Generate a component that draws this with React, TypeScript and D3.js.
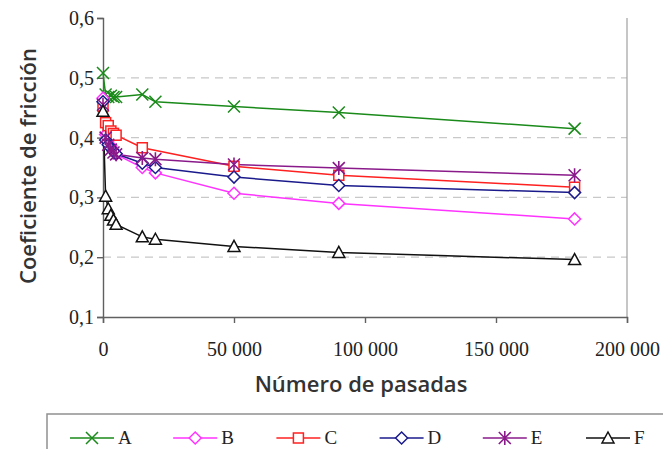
import React, { useEffect, useRef } from 'react';
import * as d3 from 'd3';

// numero de pasadas
const pasadas = [0, 1000, 2000, 3000, 4000, 5000, 15000, 20000, 50000, 90000, 180000];

const serieA = [0.508, 0.472, 0.468, 0.470, 0.468, 0.468, 0.472, 0.460, 0.452, 0.442, 0.415];
const serieB = [0.466, 0.405, 0.395, 0.386, 0.378, 0.372, 0.350, 0.341, 0.307, 0.290, 0.264];
const serieC = [0.452, 0.425, 0.420, 0.411, 0.407, 0.404, 0.383, null, 0.352, 0.337, 0.317];
const serieD = [0.460, 0.396, 0.388, 0.382, 0.377, 0.373, 0.357, 0.350, 0.334, 0.320, 0.308];
const serieE = [0.455, 0.400, 0.388, 0.380, 0.375, 0.372, 0.366, 0.364, 0.355, 0.349, 0.337];
const serieF = [0.444, 0.302, 0.281, 0.270, 0.262, 0.255, 0.234, 0.230, 0.218, 0.208, 0.196];

const nombres = ['A', 'B', 'C', 'D', 'E', 'F'];
const colores = ['#1a8a1a', '#ff33ff', '#ff2020', '#1a1a8c', '#8a1a8a', '#111111'];
const simbolos = ['x', 'diamond', 'square', 'diamond', 'star', 'triangle'];

const yTicks = [0.1, 0.2, 0.3, 0.4, 0.5, 0.6];
const xTicks = [0, 50000, 100000, 150000, 200000];

const W = 663, H = 449;
const left = 103, right = 627, top = 18, bottom = 317;
const SERIF = '"Liberation Serif", "Times New Roman", "DejaVu Serif", serif';

function marker(g, tipo, color) {
  if (tipo === 'x') {
    g.append('path').attr('d', 'M-6,-6L6,6M-6,6L6,-6').attr('stroke', color).attr('stroke-width', 1.5).attr('fill', 'none');
  } else if (tipo === 'diamond') {
    g.append('path').attr('d', 'M0,-6L6,0L0,6L-6,0Z').attr('stroke', color).attr('stroke-width', 1.5).attr('fill', 'white');
  } else if (tipo === 'square') {
    g.append('rect').attr('x', -5).attr('y', -5).attr('width', 10).attr('height', 10)
      .attr('stroke', color).attr('stroke-width', 1.5).attr('fill', 'white');
  } else if (tipo === 'star') {
    g.append('path').attr('d', 'M-6,-6L6,6M-6,6L6,-6M0,-7L0,7').attr('stroke', color).attr('stroke-width', 1.6).attr('fill', 'none');
  } else {
    g.append('path').attr('d', 'M0,-6L6,5L-6,5Z').attr('stroke', color).attr('stroke-width', 1.5).attr('fill', 'white');
  }
}

export default function App() {
  const ref = useRef(null);

  useEffect(() => {
    const svg = d3.select(ref.current);
    svg.selectAll('*').remove();

    const x = d3.scaleLinear().domain([0, 200000]).range([left, right]);
    const y = d3.scaleLinear().domain([0.1, 0.6]).range([bottom, top]);

    const loc = d3.formatLocale({ decimal: ',', thousands: ' ', grouping: [3], currency: ['', ''] });
    const fx = loc.format(',d');
    const fy = loc.format('.1f');

    // grid
    svg.append('g').selectAll('line').data(yTicks.filter(d => d > 0.1 && d < 0.6)).enter()
      .append('line')
      .attr('x1', left).attr('x2', right)
      .attr('y1', d => y(d)).attr('y2', d => y(d))
      .attr('stroke', '#c8c8c8').attr('stroke-width', 1.2).attr('stroke-dasharray', '8,6');

    // right border
    svg.append('line').attr('x1', right).attr('x2', right).attr('y1', top).attr('y2', bottom)
      .attr('stroke', '#a0a0a0').attr('stroke-width', 1.2);

    const yAxis = d3.axisLeft(y).tickValues(yTicks).tickSize(6).tickPadding(3).tickFormat(fy);
    const xAxis = d3.axisBottom(x).tickValues(xTicks).tickSize(6).tickPadding(19).tickFormat(fx);

    const gy = svg.append('g').attr('transform', `translate(${left},0)`).call(yAxis);
    const gx = svg.append('g').attr('transform', `translate(0,${bottom})`).call(xAxis);
    [gx, gy].forEach(g => {
      g.attr('font-family', SERIF).attr('font-size', 20);
      g.selectAll('path').attr('stroke', '#606060').attr('stroke-width', 1.4);
      g.selectAll('line').attr('stroke', '#606060').attr('stroke-width', 1.4);
      g.selectAll('text').style('font-family', SERIF).attr('font-size', 20).attr('fill', '#222');
    });

    const series = [serieA, serieB, serieC, serieD, serieE, serieF];
    const line = d3.line().x(d => x(d[0])).y(d => y(d[1]));

    series.forEach((s, i) => {
      const pts = pasadas.map((p, j) => [p, s[j]]).filter(d => d[1] != null);
      svg.append('path').datum(pts).attr('d', line)
        .attr('fill', 'none').attr('stroke', colores[i]).attr('stroke-width', 1.5);
    });
    series.forEach((s, i) => {
      const pts = pasadas.map((p, j) => [p, s[j]]).filter(d => d[1] != null);
      pts.forEach(d => {
        const g = svg.append('g').attr('transform', `translate(${x(d[0])},${y(d[1])})`);
        marker(g, simbolos[i], colores[i]);
      });
    });

    // titles
    svg.append('text')
      .attr('transform', `translate(36,166) rotate(-90)`)
      .attr('text-anchor', 'middle')
      .attr('font-family', '"Open Sans", sans-serif').attr('font-weight', 600).attr('font-size', 22)
      .attr('fill', '#333')
      .text('Coeficiente de fricción');
    svg.append('text')
      .attr('x', 361).attr('y', 392)
      .attr('text-anchor', 'middle')
      .attr('font-family', '"Open Sans", sans-serif').attr('font-weight', 600).attr('font-size', 22)
      .attr('fill', '#333')
      .text('Número de pasadas');

    // legend
    svg.append('rect').attr('x', 47).attr('y', 414).attr('width', 640).attr('height', 60)
      .attr('fill', 'white').attr('stroke', '#909090').attr('stroke-width', 1.5);
    const lx = d3.scaleLinear().domain([0, 5]).range([70, 586]);
    nombres.forEach((n, i) => {
      const gx0 = lx(i);
      svg.append('line').attr('x1', gx0).attr('x2', gx0 + 44).attr('y1', 438).attr('y2', 438)
        .attr('stroke', colores[i]).attr('stroke-width', 1.5);
      const g = svg.append('g').attr('transform', `translate(${gx0 + 22},438)`);
      marker(g, simbolos[i], colores[i]);
      svg.append('text').attr('x', gx0 + 48).attr('y', 444)
        .style('font-family', SERIF).attr('font-size', 19).attr('fill', '#222')
        .text(n);
    });
  }, []);

  return (
    <svg ref={ref} width={W} height={H}
      style={{ position: 'absolute', left: 0, top: 0, background: 'white' }} />
  );
}
